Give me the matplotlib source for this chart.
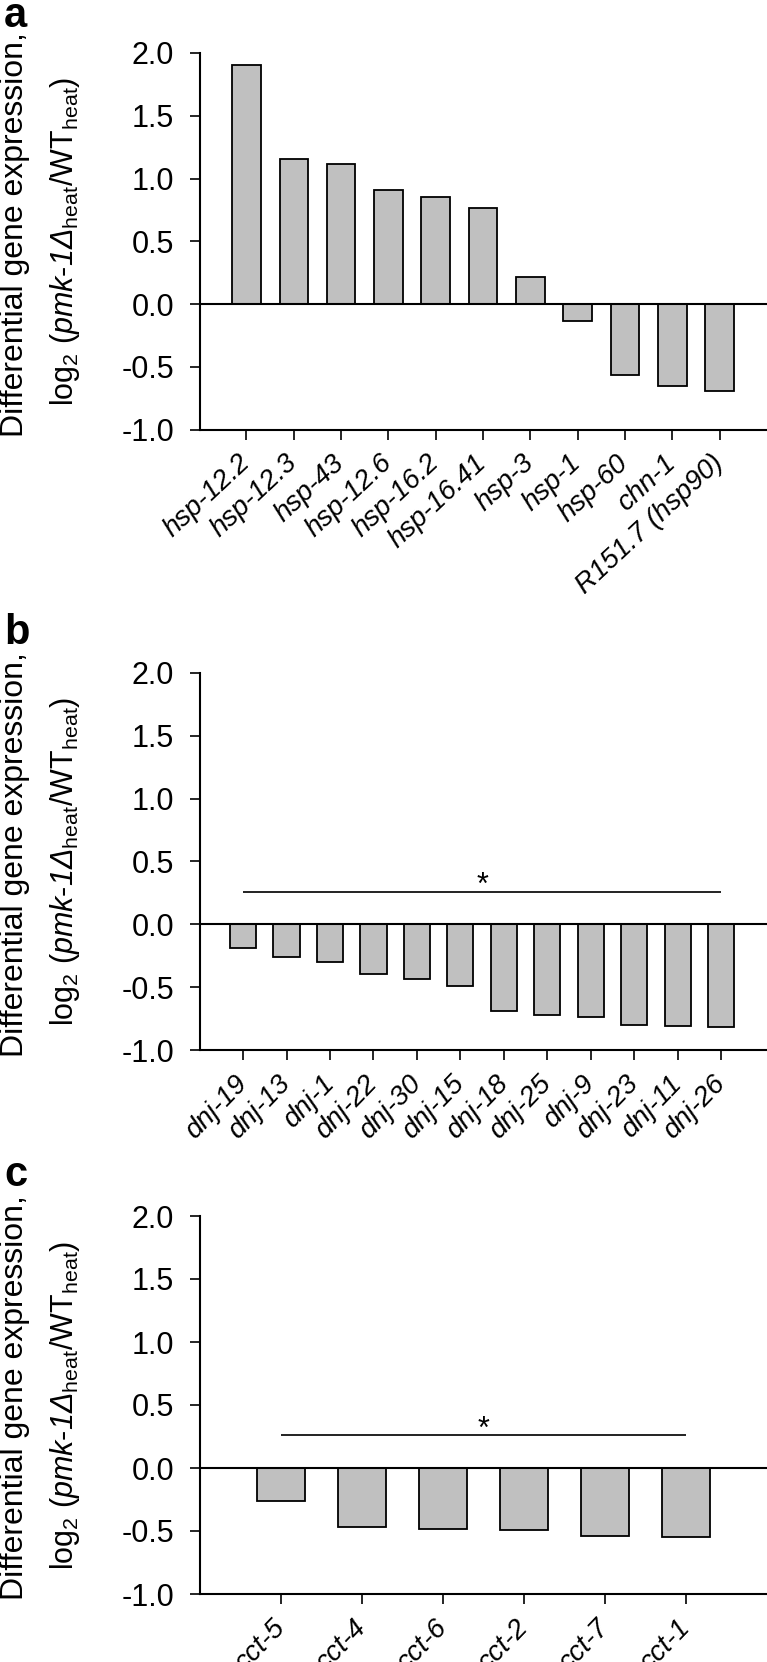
import matplotlib
matplotlib.use("Agg")
import matplotlib.pyplot as plt

plt.rcParams['font.family'] = ['Liberation Sans', 'DejaVu Sans']
plt.rcParams['mathtext.fontset'] = 'custom'
plt.rcParams['mathtext.rm'] = 'Liberation Sans'
plt.rcParams['mathtext.it'] = 'Liberation Sans:italic'
plt.rcParams['mathtext.sf'] = 'Liberation Sans:italic'
plt.rcParams['mathtext.bf'] = 'Liberation Sans:bold'
plt.rcParams['axes.unicode_minus'] = False

# ---- data ----
genes_a = ["hsp-12.2", "hsp-12.3", "hsp-43", "hsp-12.6", "hsp-16.2", "hsp-16.41",
           "hsp-3", "hsp-1", "hsp-60", "chn-1", "R151.7 (hsp90)"]
vals_a = [1.904, 1.158, 1.113, 0.911, 0.853, 0.768, 0.214, -0.137, -0.566, -0.652, -0.690]

genes_b = ["dnj-19", "dnj-13", "dnj-1", "dnj-22", "dnj-30", "dnj-15", "dnj-18",
           "dnj-25", "dnj-9", "dnj-23", "dnj-11", "dnj-26"]
vals_b = [-0.185, -0.264, -0.304, -0.395, -0.435, -0.491, -0.688, -0.719, -0.736,
          -0.801, -0.813, -0.821]

genes_c = ["cct-5", "cct-4", "cct-6", "cct-2", "cct-7", "cct-1"]
vals_c = [-0.265, -0.472, -0.483, -0.489, -0.536, -0.547]

yticks = [-1.0, -0.5, 0.0, 0.5, 1.0, 1.5, 2.0]
sig_level = 0.26

W, H = 767, 1662
fig = plt.figure(figsize=(W / 100, H / 100), dpi=100)

def px2fig(x, y):
    return x / W, 1 - y / H

panels = [
    dict(genes=genes_a, vals=vals_a, top=53, bot=429.5, xlim=(-0.98, 11.0), rot=43,
         sig=False, letter='a', letter_y=27),
    dict(genes=genes_b, vals=vals_b, top=672.8, bot=1050, xlim=(-0.99, 12.05), rot=46,
         sig=True, letter='b', letter_y=644),
    dict(genes=genes_c, vals=vals_c, top=1216, bot=1594, xlim=(-1.0, 6.0), rot=46,
         sig=True, letter='c', letter_y=1186),
]

ylab1 = "Differential gene expression,"
ylab2 = r"log$_2$ ($\mathsf{pmk}$-$\mathsf{1Δ}_{\rm heat}$/WT$_{\rm heat}$)"

left_px = 200
for p in panels:
    l, b = px2fig(left_px, p['bot'])
    ax = fig.add_axes([l, b, 1 - l, (p['bot'] - p['top']) / H])
    n = len(p['vals'])
    xs = list(range(n))
    ax.bar(xs, p['vals'], width=0.6, color='#c0c0c0', edgecolor='black',
           linewidth=1.3, zorder=2)
    ax.axhline(0, color='black', linewidth=1.5, zorder=3)
    ax.set_xlim(*p['xlim'])
    ax.set_ylim(-1.0, 2.0)
    ax.set_yticks(yticks)
    ax.set_yticklabels([f"{v:.1f}" for v in yticks])
    ax.set_xticks(xs)
    ax.set_xticklabels(p['genes'], rotation=p['rot'], ha='right', va='center',
                       rotation_mode='anchor', style='italic', fontsize=20)
    ax.tick_params(axis='y', direction='out', length=7.5, width=1.2, labelsize=22, pad=11)
    ax.tick_params(axis='x', direction='out', length=7.5, width=1.2, pad=14)
    for s in ['top', 'right']:
        ax.spines[s].set_visible(False)
    for s in ['left', 'bottom']:
        ax.spines[s].set_linewidth(1.5)
    if p['sig']:
        ax.plot([xs[0], xs[-1]], [sig_level, sig_level], color='#111111',
                linewidth=1.3, solid_capstyle='butt', zorder=3)
        ax.text((xs[0] + xs[-1]) / 2, 0.24, '*', ha='center', va='baseline',
                fontsize=22)
    cy = (p['top'] + p['bot']) / 2
    fx, fy = px2fig(0, cy - 7)
    fig.text(fx, fy, ylab1, rotation=90, ha='left', va='center', fontsize=23)
    fx, fy = px2fig(48, cy)
    fig.text(fx, fy, ylab2, rotation=90, ha='left', va='center', fontsize=22)
    fx, fy = px2fig(4, p['letter_y'])
    fig.text(fx, fy, p['letter'], fontsize=30, fontweight='bold', ha='left',
             va='baseline')

fig.savefig("out.png", dpi=100)
